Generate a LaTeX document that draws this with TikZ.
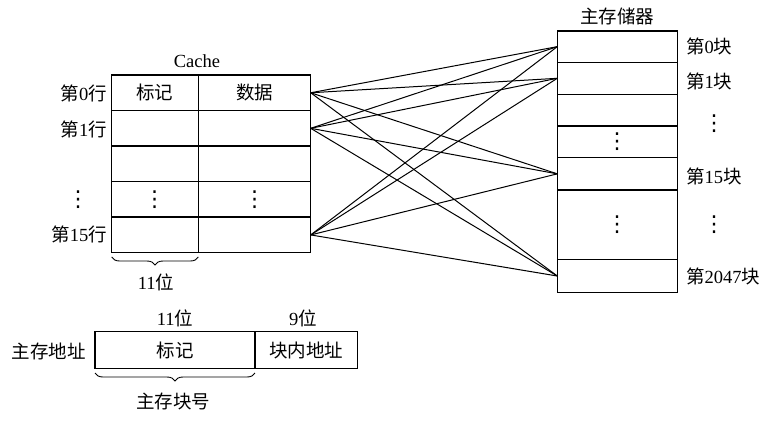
\documentclass[tikz,border=0pt]{standalone}
\usepackage{fontspec}
\setmainfont{Liberation Serif}
\newfontfamily\cjk{Noto Sans CJK SC}
\newfontfamily\symf{DejaVu Sans}
\newcommand{\zh}[1]{{\cjk #1}}
\newcommand{\vdotsmark}{{\symf ⋮}}
\usetikzlibrary{decorations.pathreplacing}
\tikzset{
  txt/.style={inner sep=0pt, font=\fontsize{18.5}{22}\selectfont},
  cell/.style={draw, line width=1.5pt, inner sep=0pt, outer sep=0pt, anchor=north west, minimum height=35.54pt},
  tagcell/.style={cell, minimum width=86.8pt},
  datacell/.style={cell, minimum width=112.4pt},
  memcell/.style={draw, line width=1.5pt, inner sep=0pt, outer sep=0pt, anchor=north west, minimum width=120pt},
  addrcell/.style={draw, line width=1.5pt, inner sep=0pt, outer sep=0pt, anchor=north west, minimum height=36.6pt},
  link/.style={line width=1pt},
  bracestyle/.style={decorate, decoration={brace, amplitude=8pt}, line width=0.9pt},
  dotsnode/.style={inner sep=0pt, font=\fontsize{22}{26}\selectfont}
}
\begin{document}
\begin{tikzpicture}[x=1pt,y=-1pt]
\useasboundingbox (0,0) rectangle (772,421);
% ---------------- Cache ----------------
\node[txt] (cachetitle) at (197,61) {Cache};
\foreach \i/\nm in {0/c0,1/c1,2/c2,3/c3,4/c15}{
  \node[tagcell] (\nm t) at (111.5,{75+35.54*\i}) {};
  \node[datacell] (\nm d) at (198.3,{75+35.54*\i}) {};
}
\node[txt] (h1) at (c0t.center) {\zh{标记}};
\node[txt] (h2) at (c0d.center) {\zh{数据}};
\node[dotsnode] (cd1) at (154.5,200) {\vdotsmark};
\node[dotsnode] (cd2) at (254.5,200) {\vdotsmark};
\node[txt, anchor=east] (r0) at (107,93) {\zh{第}0\zh{行}};
\node[txt, anchor=east] (r1) at (107,129) {\zh{第}1\zh{行}};
\node[dotsnode] (rd) at (78,200) {\vdotsmark};
\node[txt, anchor=east] (r15) at (107,234) {\zh{第}15\zh{行}};
\coordinate (bl) at (111.7,257);
\coordinate (br) at (198.3,257);
\draw[bracestyle] (br) -- (bl);
\node[txt] (b11) at (156,282) {11\zh{位}};
% ---------------- Main memory ----------------
\node[txt] (memtitle) at (617,16) {\zh{主存储器}};
\node[memcell, minimum height=31.3pt] (m0) at (557.3,31) {};
\node[memcell, minimum height=32pt] (m1) at (557.3,62.3) {};
\node[memcell, minimum height=31.7pt] (m2) at (557.3,94.3) {};
\node[memcell, minimum height=31.7pt] (m3) at (557.3,126) {};
\node[memcell, minimum height=32.3pt] (m15) at (557.3,157.7) {};
\node[memcell, minimum height=69.3pt] (m4) at (557.3,190) {};
\node[memcell, minimum height=33.4pt] (m2047) at (557.3,259.3) {};
\node[dotsnode] (md1) at (617,141.7) {\vdotsmark};
\node[dotsnode] (md2) at (617,225) {\vdotsmark};
\node[txt, anchor=west] (l0) at (686,46.7) {\zh{第}0\zh{块}};
\node[txt, anchor=west] (l1) at (686,81.7) {\zh{第}1\zh{块}};
\node[dotsnode] (ld1) at (714,123.3) {\vdotsmark};
\node[txt, anchor=west] (l15) at (686,176.7) {\zh{第}15\zh{块}};
\node[dotsnode] (ld2) at (714,225) {\vdotsmark};
\node[txt, anchor=west] (l2047) at (686,276.7) {\zh{第}2047\zh{块}};
% ---------------- Connections ----------------
\foreach \c in {c0,c1,c15}{
  \foreach \m in {m0,m1,m15,m2047}{
    \draw[link] (\c d.east) -- (\m.west);
  }
}
% ---------------- Address format ----------------
\node[txt] (addr) at (49,351.7) {\zh{主存地址}};
\node[addrcell, minimum width=160pt] (atag) at (95,331.7) {};
\node[addrcell, minimum width=102.3pt] (aoff) at (255,331.7) {};
\node[txt] (t1) at (atag.center) {\zh{标记}};
\node[txt] (t2) at (aoff.center) {\zh{块内地址}};
\node[txt] (w11) at (175,318) {11\zh{位}};
\node[txt] (w9) at (303,318) {9\zh{位}};
\coordinate (abl) at (95,373);
\coordinate (abr) at (255,373);
\draw[bracestyle] (abr) -- (abl);
\node[txt] (blk) at (173,401.7) {\zh{主存块号}};
\end{tikzpicture}
\end{document}
